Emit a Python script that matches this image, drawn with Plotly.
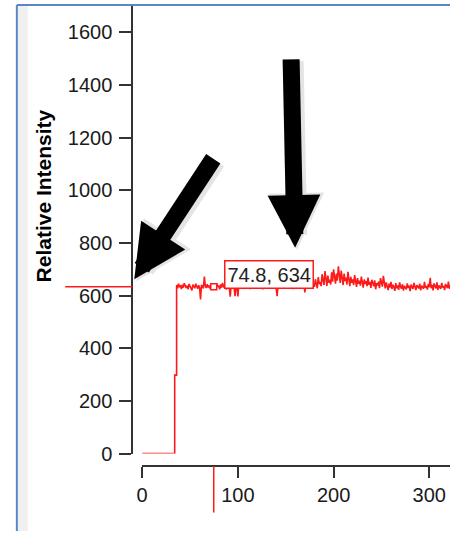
import plotly.graph_objects as go

# ---------------- data ----------------
lead_x = [0, 34, 34, 36]
lead_y = [0, 0, 298, 298]

plateau_start = 36
plateau_y = [
    640, 628, 645, 632, 636, 625, 641, 630, 647, 633,
    629, 638, 624, 644, 635, 631, 620, 642, 637, 628,
    645, 633, 626, 639, 630, 585, 641, 634, 627, 672,
    636, 629, 643, 631, 638, 626, 645, 634, 632, 634,
    640, 628, 646, 633, 637, 624, 642, 630, 648, 635,
    629, 641, 623, 638, 644, 632, 596, 640, 627, 646,
    634, 598, 639, 630, 597, 643, 628, 637, 645, 631,
    626, 641, 635, 629, 648, 633, 638, 625, 644, 630,
    636, 642, 627, 639, 631, 647, 634, 628, 640, 636,
    624, 645, 633, 638, 629, 642, 631, 646, 627, 637,
    641, 630, 635, 644, 628, 598, 639, 633, 647, 629,
    636, 642, 626, 640, 634, 631, 648, 637, 629, 643,
    632, 639, 625, 646, 635, 630, 641, 628, 644, 637,
    633, 640, 627, 645, 612, 638, 631, 649, 636, 642,
    630, 655, 638, 646, 633, 662, 641, 628, 670, 644,
    652, 636, 681, 648, 640, 693, 655, 637, 676, 649,
    660, 642, 688, 653, 700, 668, 645, 684, 657, 711,
    672, 648, 695, 661, 640, 683, 655, 668, 642, 690,
    658, 636, 671, 649, 662, 640, 678, 652, 633, 666,
    645, 657, 638, 672, 650, 630, 661, 644, 655, 636,
    668, 641, 652, 629, 660, 645, 635, 658, 624, 647,
    639, 653, 628, 666, 642, 634, 675, 640, 627, 650,
    636, 621, 645, 630, 652, 625, 641, 633, 618, 647,
    628, 639, 622, 650, 634, 626, 643, 619, 637, 631,
    624, 646, 629, 638, 617, 642, 630, 625, 648, 633,
    621, 640, 635, 627, 645, 620, 638, 631, 626, 652,
    629, 637, 623, 644, 632, 667, 628, 641, 620, 646,
    635, 627, 650, 622, 639, 633, 625, 648, 630, 637,
    621, 644, 632, 628, 653, 626, 640,
]
plateau_x = [plateau_start + i for i in range(len(plateau_y))]

cursor_x = 74.8
cursor_y = 634

x_ticks = [0, 100, 200, 300]
y_ticks = [0, 200, 400, 600, 800, 1000, 1200, 1400, 1600]
y_title = "Relative Intensity"

# ---------------- layout helpers ----------------
W, H = 450, 542


def px(p):
    return p / W


def py(p):
    return 1 - p / H


sig_x = lead_x + plateau_x
sig_y = lead_y + plateau_y

fig = go.Figure()
fig.add_trace(go.Scatter(
    x=sig_x, y=sig_y, mode="lines",
    line=dict(color="#ff1a1a", width=1.6),
    hoverinfo="skip", showlegend=False,
))
fig.add_trace(go.Scatter(
    x=[cursor_x], y=[cursor_y], mode="markers",
    marker=dict(symbol="square", size=6, color="white",
                line=dict(color="#ff1a1a", width=1.5)),
    hoverinfo="skip", showlegend=False,
))

font = "Liberation Sans, Arial, sans-serif"
axis_col = "#333333"

fig.update_layout(
    width=W, height=H,
    margin=dict(l=0, r=0, t=0, b=0),
    paper_bgcolor="white", plot_bgcolor="white",
    showlegend=False,
    xaxis=dict(
        domain=[px(138), 1], range=[0, 312 / 0.97],
        anchor="free", position=py(476),
        showline=True, linecolor=axis_col, linewidth=2,
        ticks="outside", ticklen=11, tickwidth=2, tickcolor=axis_col,
        tickvals=x_ticks, showgrid=False, zeroline=False,
        tickfont=dict(family=font, size=20, color="#1a1a1a"),
    ),
    yaxis=dict(
        domain=[py(463), py(6)], range=[0, 1700],
        anchor="free", position=px(128),
        showline=True, linecolor=axis_col, linewidth=2,
        ticks="outside", ticklen=12, tickwidth=2, tickcolor=axis_col,
        tickvals=y_ticks, showgrid=False, zeroline=False,
        ticklabelstandoff=3,
        tickfont=dict(family=font, size=20, color="#1a1a1a"),
    ),
)

shapes = [
    # window frame
    dict(type="rect", xref="paper", yref="paper", x0=px(12), x1=px(22), y0=0, y1=py(6),
         fillcolor="#f0f0f0", line=dict(width=0), layer="below"),
    dict(type="line", xref="paper", yref="paper", x0=px(11), x1=px(11), y0=0, y1=py(5),
         line=dict(color="#5a86c6", width=2)),
    dict(type="line", xref="paper", yref="paper", x0=px(11), x1=1, y0=py(5), y1=py(5),
         line=dict(color="#5a86c6", width=2)),
    # cursor cross-hair ticks
    dict(type="line", xref="paper", yref="y", x0=px(60), x1=px(128), y0=cursor_y, y1=cursor_y,
         line=dict(color="#ff1a1a", width=1.5)),
    dict(type="line", xref="x", yref="paper", x0=cursor_x, x1=cursor_x, y0=py(476), y1=py(523),
         line=dict(color="#ff1a1a", width=1.5)),
]
fig.update_layout(shapes=shapes)

annotations = [
    dict(text="<b>" + y_title + "</b>", xref="paper", yref="paper", x=px(38), y=py(200),
         textangle=-90, showarrow=False, xanchor="center", yanchor="middle",
         font=dict(family=font, size=21, color="black")),
    dict(text=f"{cursor_x}, {cursor_y}", xref="paper", yref="paper",
         x=px(266.5), y=py(280), showarrow=False, xanchor="center", yanchor="middle",
         bgcolor="white", bordercolor="#ff1a1a", borderwidth=1.5, borderpad=2,
         font=dict(family=font, size=20, color="#222222")),
]

arrows = [
    # tip (px), tail (px)
    ((130, 285), (210, 163)),
    ((293, 253), (289, 63)),
]
for (tx, ty), (sx, sy) in arrows:
    annotations.append(dict(
        text="", xref="paper", yref="paper", x=px(tx + 2), y=py(ty + 2),
        ax=sx - tx, ay=sy - ty, showarrow=True, arrowhead=2,
        arrowwidth=21, arrowsize=0.54, arrowcolor="rgba(0,0,0,0.10)"))
    annotations.append(dict(
        text="", xref="paper", yref="paper", x=px(tx), y=py(ty),
        ax=sx - tx, ay=sy - ty, showarrow=True, arrowhead=2,
        arrowwidth=17, arrowsize=0.62, arrowcolor="black"))

fig.update_layout(annotations=annotations)

fig.write_html("out.html", post_script="document.body.style.margin='0';",
               config={"displayModeBar": False})
